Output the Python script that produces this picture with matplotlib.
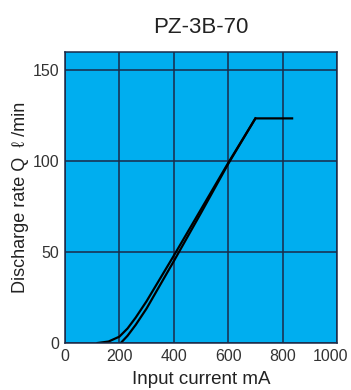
import matplotlib
matplotlib.use("Agg")
import matplotlib.pyplot as plt
import matplotlib.transforms as mtransforms

plt.rcParams['font.family'] = ['Liberation Sans', 'DejaVu Sans']

curve_a_x = [120, 160, 200, 230, 260, 300, 400, 500, 600, 700, 835]
curve_a_y = [0, 0.8, 3.5, 8, 14, 23, 48, 73.5, 99, 123.5, 123.5]
curve_b_x = [205, 230, 260, 300, 400, 500, 600, 700]
curve_b_y = [0, 4, 10, 19, 45, 71.5, 98.5, 123.5]

x_ticks = [0, 200, 400, 600, 800, 1000]
y_ticks = [0, 50, 100, 150]

fig = plt.figure(figsize=(3.51, 3.90), dpi=100)
ax = fig.add_axes([65/351, 1 - 343/390, (337 - 65)/351, (343 - 52)/390])
ax.set_facecolor('#00AEEF')
ax.set_xlim(0, 1000)
ax.set_ylim(0, 160)
ax.set_xticks(x_ticks)
ax.set_yticks(y_ticks)
ax.grid(True, color='#1b2a48', linewidth=1.1)
ax.set_axisbelow(True)
ax.tick_params(length=0, labelsize=11.5, colors='#333333', pad=4)
for s in ax.spines.values():
    s.set_color('#1b2a48')
    s.set_linewidth(1.1)

# keep the last x tick label inside the figure
last = ax.get_xticklabels()[-1]
last.set_transform(last.get_transform() + mtransforms.ScaledTranslation(-6/100, 0, fig.dpi_scale_trans))

ax.plot(curve_a_x, curve_a_y, color='black', linewidth=1.6, solid_joinstyle='miter')
ax.plot(curve_b_x, curve_b_y, color='black', linewidth=1.6, solid_joinstyle='miter')

ax.set_title('PZ-3B-70', fontsize=16, color='#222222', pad=14)
ax.set_xlabel('Input current mA', fontsize=13.5, color='#222222', labelpad=5)
ax.set_ylabel('Discharge rate Q  ℓ /min', fontsize=13, color='#222222', labelpad=3)

fig.savefig('out.png', dpi=100)
